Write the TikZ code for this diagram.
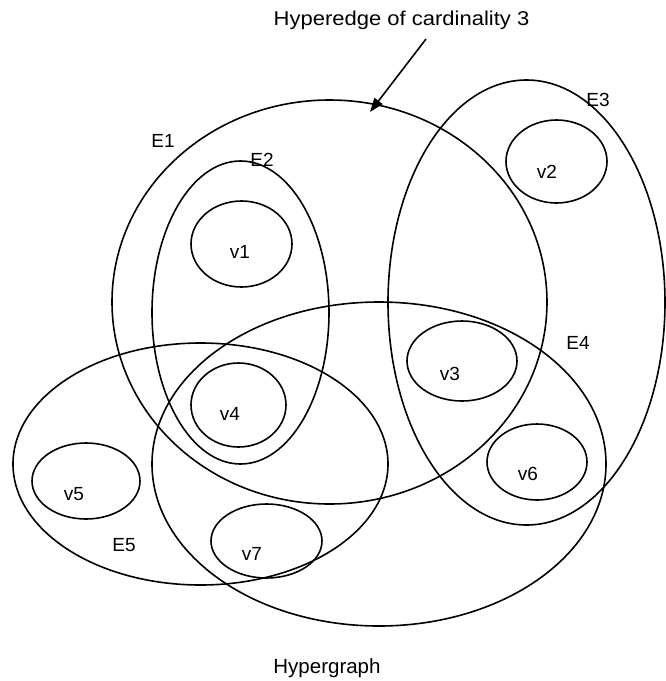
\documentclass[tikz,border=0pt]{standalone}
\usepackage{fontspec}
\setmainfont{Liberation Sans}
\usetikzlibrary{shapes.geometric,arrows.meta}
\begin{document}
\begin{tikzpicture}[x=1pt,y=-1pt,
  edgeline/.style={line width=1.6pt},
  blob/.style={draw,edgeline,ellipse,inner sep=0pt,outer sep=0pt},
  lbl/.style={anchor=base,inner sep=0pt,font=\fontsize{19}{22}\selectfont},
]
\useasboundingbox (0,0) rectangle (666,681);
% hyperedges
\node[blob,minimum width=435pt,minimum height=404pt] (E1) at (329.5,302) {};
\node[blob,minimum width=177pt,minimum height=303pt] (E2) at (240.5,312.5) {};
\node[blob,minimum width=277pt,minimum height=445pt] (E3) at (526.5,302.5) {};
\node[blob,minimum width=454pt,minimum height=324pt] (E4) at (379,464) {};
\node[blob,minimum width=375pt,minimum height=242pt] (E5) at (200.5,464) {};
% vertices
\node[blob,minimum width=101pt,minimum height=86pt] (v1) at (241.5,244) {};
\node[blob,minimum width=101pt,minimum height=83pt] (v2) at (556.5,161.5) {};
\node[blob,minimum width=110pt,minimum height=80pt] (v3) at (462,361) {};
\node[blob,minimum width=95pt,minimum height=84pt] (v4) at (238.5,405) {};
\node[blob,minimum width=108pt,minimum height=76pt] (v5) at (86,481) {};
\node[blob,minimum width=100pt,minimum height=76pt] (v6) at (537,462) {};
\node[blob,minimum width=111pt,minimum height=74pt] (v7) at (266.5,541) {};
% labels
\node[lbl] (lE1) at (163,147) {E1};
\node[lbl] (lE2) at (262,166) {E2};
\node[lbl] (lE3) at (598,106) {E3};
\node[lbl] (lE4) at (578,349) {E4};
\node[lbl] (lE5) at (124,551) {E5};
\node[lbl] (lv1) at (240,258) {v1};
\node[lbl] (lv2) at (547,178) {v2};
\node[lbl] (lv3) at (450,380) {v3};
\node[lbl] (lv4) at (230,420) {v4};
\node[lbl] (lv5) at (74,500) {v5};
\node[lbl] (lv6) at (528,480) {v6};
\node[lbl] (lv7) at (252,560) {v7};
% title and caption
\node[anchor=base,inner sep=0pt,font=\fontsize{20}{24}\selectfont] (title) at (401.5,25) {\scalebox{1.1}[1]{Hyperedge of cardinality 3}};
\node[anchor=base,inner sep=0pt,font=\fontsize{20.5}{24}\selectfont] (cap) at (327,673) {Hypergraph};
% arrow
\coordinate (as) at (426,39);
\coordinate (ae) at (370,112);
\draw[edgeline,-{Triangle[length=14pt,width=10pt]}] (as) -- (ae);
\end{tikzpicture}
\end{document}
